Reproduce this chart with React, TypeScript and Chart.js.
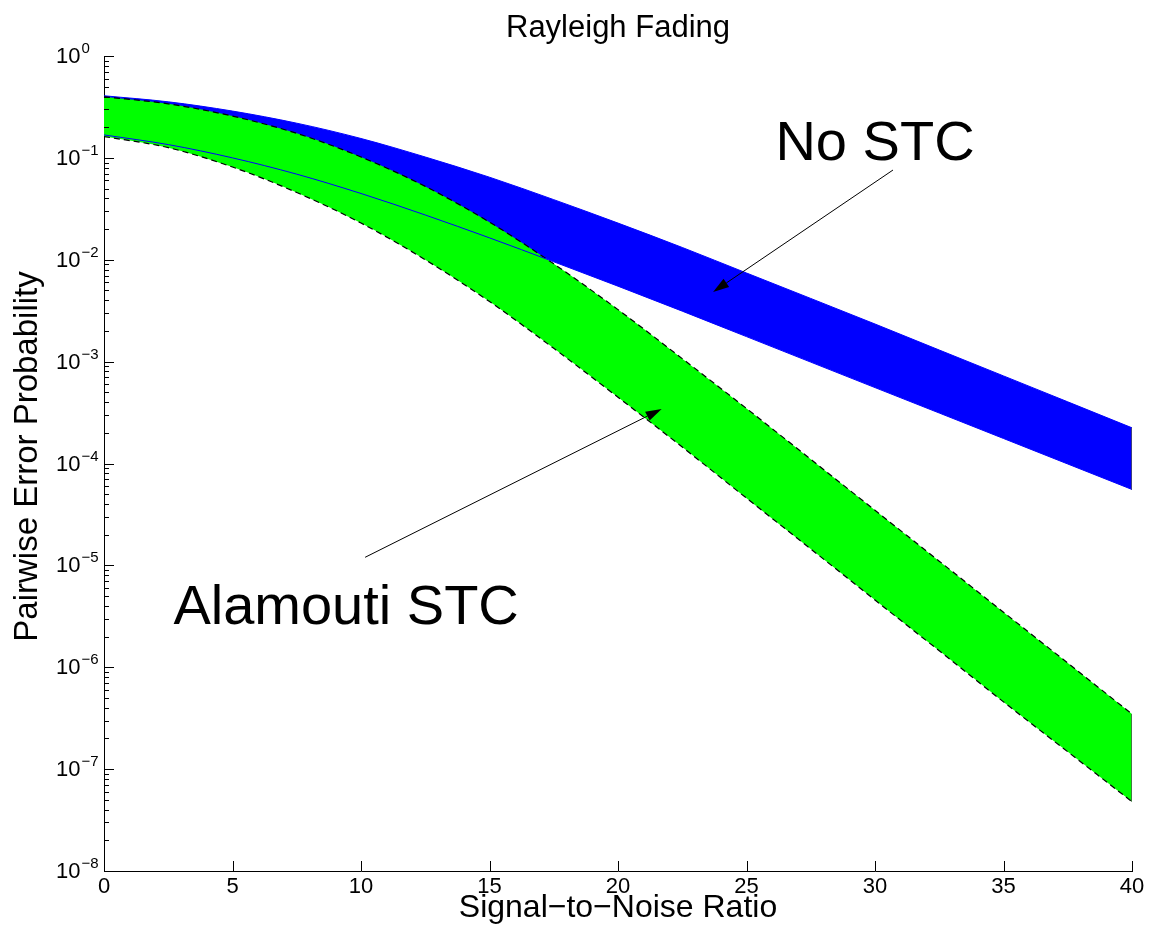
import React, { useEffect, useRef } from 'react';
import { Chart, registerables } from 'chart.js';

Chart.register(...registerables);

// SNR grid in dB
const snrDb = [0, 2.5, 5, 7.5, 10, 12.5, 15, 17.5, 20, 22.5, 25, 27.5, 30, 32.5, 35, 37.5, 40];

// No STC band (upper / lower PEP)
const noStcUpper = [0.407, 0.355, 0.288, 0.219, 0.155, 0.102, 0.0646, 0.0389, 0.0229, 0.0132, 0.00741, 0.00417, 0.00234, 0.0013, 7.24e-4, 4.03e-4, 2.24e-4];
const noStcLower = [0.168, 0.135, 0.1, 0.0692, 0.0447, 0.0275, 0.0164, 0.00955, 0.0055, 0.00313, 0.00176, 9.89e-4, 5.56e-4, 3.13e-4, 1.76e-4, 9.89e-5, 5.56e-5];

// Alamouti STC band (upper / lower PEP)
const alamoutiUpper = [0.398, 0.339, 0.257, 0.174, 0.102, 0.0525, 0.0234, 0.00912, 0.00324, 0.00107, 3.47e-4, 1.1e-4, 3.47e-5, 1.1e-5, 3.47e-6, 1.1e-6, 3.47e-7];
const alamoutiLower = [0.162, 0.126, 0.0813, 0.0457, 0.0229, 0.01, 0.00389, 0.00135, 4.47e-4, 1.45e-4, 4.57e-5, 1.45e-5, 4.57e-6, 1.45e-6, 4.57e-7, 1.48e-7, 4.79e-8];

// Axis ticks
const xTickValues = [0, 5, 10, 15, 20, 25, 30, 35, 40];
const xTickLabels = ['0', '5', '10', '15', '20', '25', '30', '35', '40'];
const yTickExponents = [-8, -7, -6, -5, -4, -3, -2, -1, 0];

// Text annotations with arrows, in data coordinates
const noStcNote = { text: 'No STC', snr: 30.0, pep: 0.135, from: [30.7, 0.076], to: [23.7, 4.83e-3] };
const alamoutiNote = { text: 'Alamouti STC', snr: 9.42, pep: 3.8e-6, from: [10.16, 1.2e-5], to: [21.7, 3.43e-4] };

const FONT = '"Liberation Sans", Arial, Helvetica, sans-serif';

const toPoints = (ys: number[]) => snrDb.map((x, i) => ({ x, y: ys[i] }));
const lastIdx = snrDb.length - 1;

const decorPlugin = {
  id: 'decor',
  afterDraw(chart: any) {
    const { ctx, chartArea } = chart;
    const xs = chart.scales.x;
    const ys = chart.scales.y;
    ctx.save();

    // inward tick marks
    ctx.strokeStyle = '#000';
    ctx.lineWidth = 1;
    ctx.beginPath();
    for (const v of xTickValues) {
      const px = Math.round(xs.getPixelForValue(v)) + 0.5;
      ctx.moveTo(px, chartArea.bottom);
      ctx.lineTo(px, chartArea.bottom - 10);
    }
    for (const e of yTickExponents) {
      const py = Math.round(ys.getPixelForValue(Math.pow(10, e))) + 0.5;
      ctx.moveTo(chartArea.left, py);
      ctx.lineTo(chartArea.left + 10, py);
      if (e < 0) {
        for (let k = 2; k <= 9; k++) {
          const pm = Math.round(ys.getPixelForValue(k * Math.pow(10, e))) + 0.5;
          ctx.moveTo(chartArea.left, pm);
          ctx.lineTo(chartArea.left + 5, pm);
        }
      }
    }
    ctx.stroke();

    // tick labels
    ctx.fillStyle = '#000';
    ctx.font = `22px ${FONT}`;
    ctx.textAlign = 'center';
    ctx.textBaseline = 'middle';
    xTickValues.forEach((v, i) => {
      ctx.fillText(xTickLabels[i], xs.getPixelForValue(v), chartArea.bottom + 16);
    });
    for (const e of yTickExponents) {
      const py = ys.getPixelForValue(Math.pow(10, e));
      ctx.font = `22px ${FONT}`;
      ctx.textAlign = 'left';
      ctx.textBaseline = 'middle';
      ctx.fillText('10', 56, py + 1);
      const w = ctx.measureText('10').width;
      ctx.font = `15px ${FONT}`;
      ctx.textBaseline = 'alphabetic';
      ctx.fillText(e < 0 ? '\u2212' + String(-e) : String(e), 56 + w + 1, py - 3);
    }

    // title and axis titles
    const cx = (chartArea.left + chartArea.right) / 2;
    ctx.textAlign = 'center';
    ctx.textBaseline = 'middle';
    ctx.font = `31px ${FONT}`;
    ctx.fillText('Rayleigh Fading', cx, 28);
    ctx.font = `32px ${FONT}`;
    ctx.fillText('Signal\u2212to\u2212Noise Ratio', cx, chartArea.bottom + 37);
    ctx.save();
    ctx.font = `33px ${FONT}`;
    ctx.translate(28, (chartArea.top + chartArea.bottom) / 2 - 7);
    ctx.rotate(-Math.PI / 2);
    ctx.fillText('Pairwise Error Probability', 0, 0);
    ctx.restore();

    // annotations
    for (const note of [noStcNote, alamoutiNote]) {
      ctx.font = `56px ${FONT}`;
      ctx.textAlign = 'center';
      ctx.textBaseline = 'middle';
      ctx.fillText(note.text, xs.getPixelForValue(note.snr), ys.getPixelForValue(note.pep));
      const x1 = xs.getPixelForValue(note.from[0]);
      const y1 = ys.getPixelForValue(note.from[1]);
      const x2 = xs.getPixelForValue(note.to[0]);
      const y2 = ys.getPixelForValue(note.to[1]);
      const ang = Math.atan2(y2 - y1, x2 - x1);
      const headLen = 16;
      const headHalf = 5;
      const bx = x2 - headLen * Math.cos(ang);
      const by = y2 - headLen * Math.sin(ang);
      ctx.beginPath();
      ctx.lineWidth = 1;
      ctx.moveTo(x1, y1);
      ctx.lineTo(bx, by);
      ctx.stroke();
      ctx.beginPath();
      ctx.moveTo(x2, y2);
      ctx.lineTo(bx + headHalf * Math.sin(ang), by - headHalf * Math.cos(ang));
      ctx.lineTo(bx - headHalf * Math.sin(ang), by + headHalf * Math.cos(ang));
      ctx.closePath();
      ctx.fill();
    }
    ctx.restore();
  },
};

export default function App() {
  const canvasRef = useRef<HTMLCanvasElement | null>(null);

  useEffect(() => {
    const canvas = canvasRef.current;
    if (!canvas) return;
    const chart = new Chart(canvas, {
      type: 'line',
      data: {
        datasets: [
          {
            label: 'No STC upper',
            data: toPoints(noStcUpper),
            borderColor: '#0000ff',
            borderWidth: 1,
            backgroundColor: '#0000ff',
            fill: { target: 1 },
            order: 6,
          },
          {
            label: 'No STC lower',
            data: toPoints(noStcLower),
            borderColor: '#0000ff',
            borderWidth: 1,
            fill: false,
            order: 2,
          },
          {
            label: 'Alamouti STC upper',
            data: toPoints(alamoutiUpper),
            borderColor: '#000000',
            borderWidth: 1.2,
            borderDash: [6, 4],
            backgroundColor: '#00ff00',
            fill: { target: 3 },
            order: 4,
          },
          {
            label: 'Alamouti STC lower',
            data: toPoints(alamoutiLower),
            borderColor: '#000000',
            borderWidth: 1.2,
            borderDash: [6, 4],
            fill: false,
            order: 1,
          },
          {
            label: 'No STC edge',
            data: [
              { x: snrDb[lastIdx], y: noStcUpper[lastIdx] },
              { x: snrDb[lastIdx], y: noStcLower[lastIdx] },
            ],
            borderColor: '#555555',
            borderWidth: 1.5,
            fill: false,
            tension: 0,
            cubicInterpolationMode: 'default',
            order: 1,
          },
          {
            label: 'Alamouti STC edge',
            data: [
              { x: snrDb[lastIdx], y: alamoutiUpper[lastIdx] },
              { x: snrDb[lastIdx], y: alamoutiLower[lastIdx] },
            ],
            borderColor: '#555555',
            borderWidth: 1.5,
            fill: false,
            tension: 0,
            cubicInterpolationMode: 'default',
            order: 1,
          },
        ],
      },
      options: {
        responsive: false,
        animation: false,
        events: [],
        layout: { padding: { left: 104, top: 56, right: 21, bottom: 66 } },
        elements: {
          point: { radius: 0, hoverRadius: 0 },
          line: { cubicInterpolationMode: 'monotone' },
        },
        plugins: {
          legend: { display: false },
          tooltip: { enabled: false },
          title: { display: false },
        },
        scales: {
          x: {
            type: 'linear',
            min: 0,
            max: 40,
            grid: { display: false, drawTicks: false },
            border: { display: true, color: '#000', width: 1 },
            ticks: { display: false },
          },
          y: {
            type: 'logarithmic',
            min: 1e-8,
            max: 1,
            grid: { display: false, drawTicks: false },
            border: { display: true, color: '#000', width: 1 },
            ticks: { display: false },
          },
        },
      },
      plugins: [decorPlugin],
    } as any);
    return () => chart.destroy();
  }, []);

  return (
    <div style={{ position: 'fixed', left: 0, top: 0, width: 1153, height: 937, background: '#fff' }}>
      <canvas ref={canvasRef} width={1153} height={937} style={{ display: 'block' }} />
    </div>
  );
}
